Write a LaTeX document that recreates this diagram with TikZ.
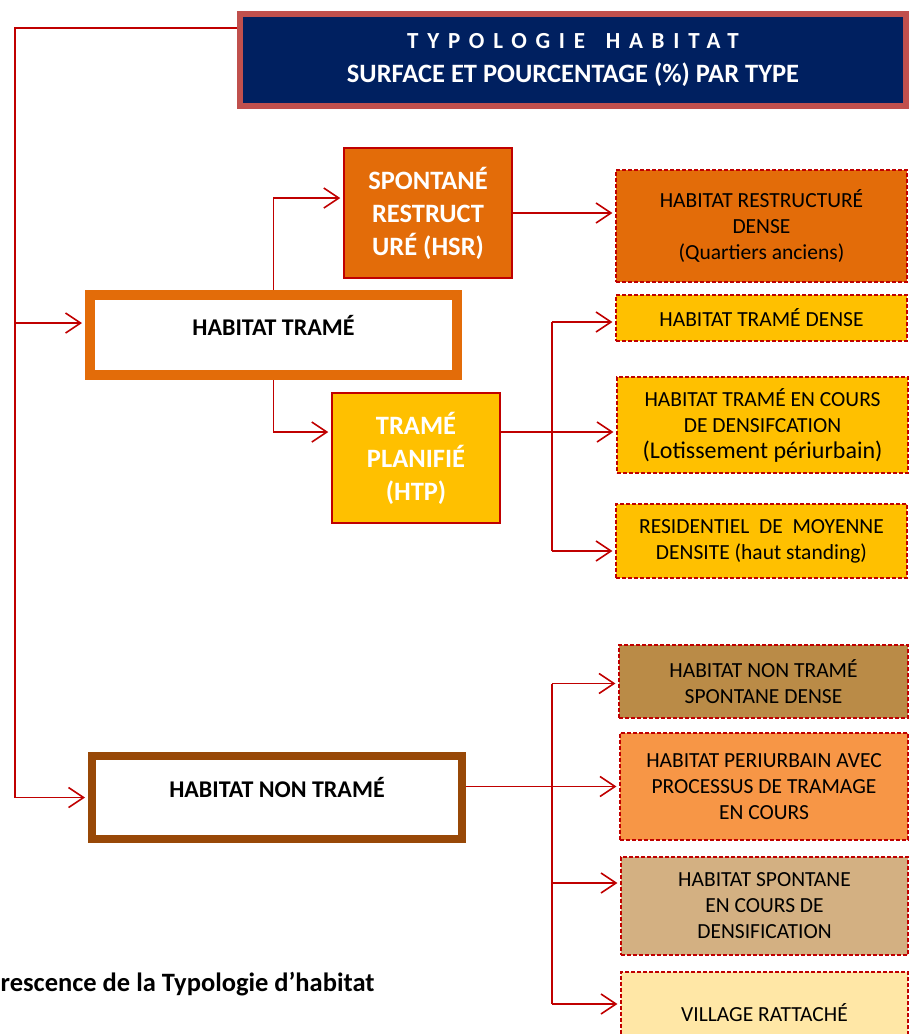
\documentclass[tikz,border=0pt]{standalone}
\usepackage{fontspec}
\setmainfont{Carlito}
\usetikzlibrary{arrows.meta,shapes,calc}

\definecolor{marine}{HTML}{002060}
\definecolor{brique}{HTML}{C0504D}
\definecolor{rouge}{HTML}{C00000}
\definecolor{orange}{HTML}{E36C09}
\definecolor{or}{HTML}{FFC000}
\definecolor{ocre}{HTML}{BA8B47}
\definecolor{saumon}{HTML}{F79646}
\definecolor{sable}{HTML}{D3B082}
\definecolor{paille}{HTML}{FFE7A6}
\definecolor{brun}{HTML}{984807}

\begin{document}
\begin{tikzpicture}[x=1pt,y=-1pt,
	lien/.style={draw=rouge, line width=1.6pt},
	fleche/.style={lien, -{Straight Barb[length=15pt,width=20pt,line width=1.6pt]}, shorten >=3pt},
	classe/.style={draw, fill=white, minimum width=367, minimum height=80, text depth=20pt,
		font=\fontsize{24}{29}\selectfont\bfseries, text=black},
	soustype/.style={draw=rouge, line width=1.5pt, minimum width=168, minimum height=130, align=center,
		text=white, font=\fontsize{26.5}{33}\selectfont\bfseries},
	habitat/.style={draw=rouge, dashed, dash pattern=on 4pt off 2pt, line width=1.2pt,
		minimum width=291, align=center, text=black, font=\fontsize{21.5}{26}\selectfont}]
	\useasboundingbox (0,0) rectangle (911,1034);

	% titre
	\node[draw=brique, fill=marine, line width=6pt, minimum width=666, minimum height=92,
		align=center, text=white, font=\fontsize{26.5}{34}\selectfont\bfseries] (titre) at (573,60)
		{{\fontsize{23}{34}\selectfont\addfontfeatures{LetterSpace=38}TYPOLOGIE\hspace{0.9em}HABITAT}\\
		 SURFACE ET POURCENTAGE (\%) PAR TYPE};

	% classes
	\node[classe, draw=orange, line width=10pt] (tram) at (273.5,335) {HABITAT TRAMÉ};
	\node[classe, draw=brun, line width=8pt, minimum width=370, minimum height=83] (nontram) at (277,797.5) {HABITAT NON TRAMÉ};

	% sous-types
	\node[soustype, fill=orange] (hsr) at (428,213) {SPONTANÉ\\RESTRUCT\\URÉ (HSR)};
	\node[soustype, fill=or] (htp) at (416,458) {TRAMÉ\\PLANIFIÉ\\(HTP)};

	% types d'habitat
	\node[habitat, fill=orange, minimum height=112] (rdense) at (761.5,226) {HABITAT RESTRUCTURÉ\\DENSE\\(Quartiers anciens)};
	\node[habitat, fill=or, minimum height=46] (tdense) at (761.5,318) {HABITAT TRAMÉ DENSE};
	\node[habitat, fill=or, minimum height=96] (encours) at (762.5,425) {HABITAT TRAMÉ EN COURS\\DE DENSIFCATION\\{\fontsize{24}{26}\selectfont(Lotissement périurbain)}};
	\node[habitat, fill=or, minimum height=74] (resid) at (761.5,541) {RESIDENTIEL\ \ DE\ \ MOYENNE\\DENSITE (haut standing)};
	\node[habitat, fill=ocre, minimum width=289, minimum height=73] (nts) at (763.5,681.5) {HABITAT NON TRAMÉ\\SPONTANE DENSE};
	\node[habitat, fill=saumon, minimum width=288, minimum height=107] (periurb) at (764,786.5) {HABITAT PERIURBAIN AVEC\\PROCESSUS DE TRAMAGE\\EN COURS};
	\node[habitat, fill=sable, minimum width=287, minimum height=98] (spont) at (764.5,906) {HABITAT SPONTANE\\EN COURS DE\\DENSIFICATION};
	\node[habitat, fill=paille, minimum width=287, minimum height=82] (village) at (764.5,1013) {VILLAGE RATTACHÉ};

	\node[anchor=base east, font=\fontsize{26.5}{30}\selectfont\bfseries] (legende) at (378,991) {rescence de la Typologie d’habitat};

	% liaisons
	\coordinate (tronc) at (15,28);
	\coordinate (brasA) at (552,432);
	\coordinate (brasB) at (552,787);
	\coordinate (entreeT) at ([yshift=12pt]tram.west);
	\coordinate (entreeH) at ([yshift=15pt]hsr.west);
	\coordinate (entreeP) at ([yshift=26pt]htp.west);
	\coordinate (sortieP) at ([yshift=26pt]htp.east);
	\coordinate (entreeTD) at ([yshift=-4pt]tdense.west);
	\coordinate (entreeR) at ([yshift=-10pt]resid.west);
	\coordinate (entreeN) at ([yshift=-2pt]nts.west);
	\coordinate (entreeS) at ([yshift=23pt]spont.west);
	\coordinate (entreeV) at ([yshift=9pt]village.west);

	\draw[lien] ([yshift=32pt]titre.west) -- (tronc) -- (tronc |- nontram.west);
	\draw[fleche] (tronc |- entreeT) -- (entreeT);
	\draw[fleche] (tronc |- nontram.west) -- (nontram.west);

	\draw[fleche] (tram.north) |- (entreeH);
	\draw[fleche] (tram.south) |- (entreeP);
	\draw[fleche] (hsr.east) -- (hsr.east -| rdense.west);

	\draw[fleche] (sortieP) -- (sortieP -| encours.west);
	\draw[lien] (brasA |- entreeTD) -- (brasA |- entreeR);
	\draw[fleche] (brasA |- entreeTD) -- (entreeTD);
	\draw[fleche] (brasA |- entreeR) -- (entreeR);

	\draw[fleche] (nontram.east |- periurb.west) -- (periurb.west);
	\draw[lien] (brasB |- entreeN) -- (brasB |- entreeV);
	\draw[fleche] (brasB |- entreeN) -- (entreeN);
	\draw[fleche] (brasB |- entreeS) -- (entreeS);
	\draw[fleche] (brasB |- entreeV) -- (entreeV);
\end{tikzpicture}
\end{document}
